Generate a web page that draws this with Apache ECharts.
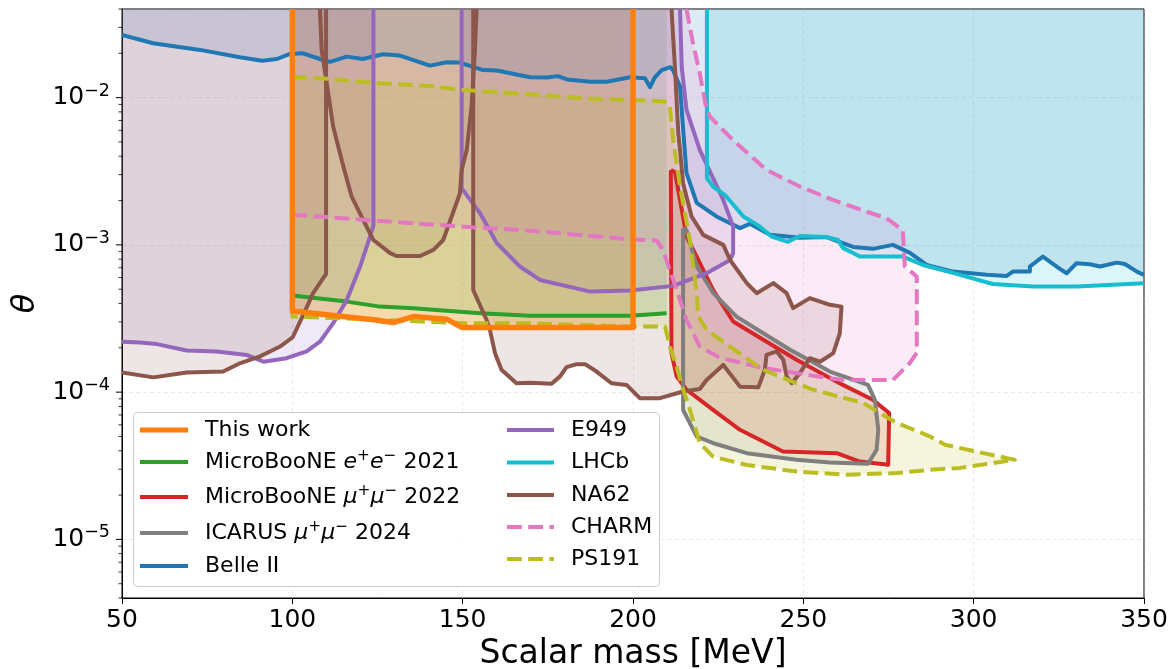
<!DOCTYPE html>
<html><head><meta charset="utf-8">
<script src="https://cdn.jsdelivr.net/npm/echarts@6/dist/echarts.min.js"></script>
<style>html,body{margin:0;padding:0;background:#fff}#c{width:1175px;height:669px}</style>
</head><body><div id="c"></div>
<script>
// ---- axis ranges / ticks ----
const X_MIN = 50, X_MAX = 350;
const Y_MIN = 4e-6, Y_MAX = 0.04, TOP = Y_MAX;
const xTicks = [50, 100, 150, 200, 250, 300, 350];
const yMajorTicks = [1e-5, 1e-4, 1e-3, 1e-2];
const yMinorTicks = [4e-6, 5e-6, 6e-6, 7e-6, 8e-6, 9e-6,
  2e-5, 3e-5, 4e-5, 5e-5, 6e-5, 7e-5, 8e-5, 9e-5,
  2e-4, 3e-4, 4e-4, 5e-4, 6e-4, 7e-4, 8e-4, 9e-4,
  2e-3, 3e-3, 4e-3, 5e-3, 6e-3, 7e-3, 8e-3, 9e-3,
  2e-2, 3e-2, 4e-2];

// ---- data (mass [MeV], theta) ----
const thisWork = [[100, TOP], [100, 3.56e-4], [123.8, 3.1e-4], [129.6, 2.97e-4], [135.5, 3.26e-4], [145.3, 3.13e-4], [149.7, 2.75e-4], [200, 2.75e-4], [200, TOP]];

const microBooNEee = [[100, 4.54e-4], [116, 4.12e-4], [125.7, 3.81e-4], [135.5, 3.72e-4], [155.1, 3.44e-4], [169.8, 3.3e-4], [199.1, 3.3e-4], [209.9, 3.44e-4]];

const microBooNEmumu = [[211.1, 3.23e-3], [211.3, 1.84e-4], [212.8, 1.28e-4], [215.7, 1.04e-4], [223.5, 7.59e-5], [231.4, 5.55e-5], [244, 3.95e-5], [259.8, 3.85e-5], [266.6, 3.38e-5], [274.9, 3.21e-5], [275.2, 7.2e-5], [270.4, 8.87e-5], [261.6, 1.12e-4], [248, 1.66e-4], [229.4, 3.02e-4], [223.5, 4.95e-4], [218.7, 8.33e-4], [215.7, 1.14e-3], [213.8, 2.02e-3], [212.3, 3.13e-3], [211.1, 3.23e-3]];

const icarus = [[214.7, 1.3e-3], [214.7, 7.59e-5], [218.7, 5.0e-5], [223.6, 4.5e-5], [233.4, 3.85e-5], [248, 3.47e-5], [257.8, 3.33e-5], [269, 3.26e-5], [271.5, 4.06e-5], [272, 5.55e-5], [271, 8.87e-5], [269, 1.12e-4], [257.8, 1.38e-4], [246.1, 1.94e-4], [230.4, 3.26e-4], [223.6, 4.7e-4], [218.7, 7.13e-4], [215.7, 1.26e-3], [214.7, 1.3e-3]];

const belle2 = [[50, 0.0267], [59.1, 0.0234], [72.9, 0.0211], [84.6, 0.0188], [91.1, 0.0178], [95.5, 0.0183], [99.3, 0.0198], [103.1, 0.0200], [108.1, 0.0183], [111.1, 0.0175], [116, 0.0190], [120.7, 0.0183], [126.6, 0.0197], [131.6, 0.0193], [140.4, 0.0165], [145.3, 0.0174], [149.2, 0.0173], [156, 0.0154], [160, 0.0153], [169.8, 0.01375], [174.7, 0.0137], [178, 0.0140], [180.6, 0.0133], [187.4, 0.01284], [192.3, 0.01284], [199.1, 0.01375], [203.5, 0.01355], [205, 0.01177], [206.4, 0.01375], [208.4, 0.0154], [211, 0.0161], [211.8, 0.0153], [213.8, 0.01188], [214.8, 0.00573], [215.7, 0.00307], [218.7, 0.00193], [224.5, 0.00156], [231.4, 0.0013], [234.3, 0.00139], [240.2, 0.00117], [249, 0.00112], [256.8, 0.00113], [264.6, 0.000969], [270.4, 0.00094], [276.3, 0.001], [281.3, 0.000883], [286.2, 0.000731], [293.9, 0.000659], [303.8, 0.000626], [309.7, 0.000616], [311.5, 0.000659], [316.5, 0.000659], [316.5, 0.000713], [320.3, 0.000833], [325.3, 0.000687], [327.3, 0.000642], [330.2, 0.000751], [334.1, 0.000739], [337.1, 0.000713], [342, 0.000758], [344.4, 0.000742], [347.9, 0.000659], [350, 0.000626]];

const e949Low = [[50, 2.2e-4], [55.3, 2.17e-4], [60.2, 2.12e-4], [69, 1.92e-4], [77.8, 1.89e-4], [86.6, 1.79e-4], [91.5, 1.61e-4], [98.3, 1.70e-4], [104.2, 1.89e-4], [108.1, 2.2e-4], [112, 2.94e-4], [116, 4.23e-4], [119.9, 7.13e-4], [122.3, 1.05e-3], [123.8, 1.35e-3], [123.8, TOP]];
const e949High = [[149.7, TOP], [149.7, 2.43e-3], [155.1, 1.64e-3], [160, 1.03e-3], [166.8, 7.13e-4], [172.7, 5.78e-4], [187.4, 4.82e-4], [199.1, 4.9e-4], [211.8, 5.27e-4], [221.6, 6.42e-4], [228.5, 7.9e-4], [229.4, 8.8e-4], [229.4, 1.33e-3], [226.5, 2.02e-3], [219.6, 4.42e-3], [215.7, 8.25e-3], [214.3, 0.0162], [213.8, TOP]];

const lhcb = [[221.7, TOP], [221.7, 2.84e-3], [223.5, 2.49e-3], [227, 2.18e-3], [232.4, 1.56e-3], [237.3, 1.33e-3], [240.7, 1.14e-3], [245.5, 1.05e-3], [249, 1.15e-3], [256.8, 1.13e-3], [260.2, 1.08e-3], [261.6, 9.55e-4], [266.6, 8.33e-4], [279.2, 8.33e-4], [285.1, 7.31e-4], [293.9, 6.46e-4], [305.6, 5.43e-4], [317.4, 5.21e-4], [330.3, 5.21e-4], [350, 5.5e-4]];

const na62Low = [[50, 1.36e-4], [59.2, 1.26e-4], [69, 1.36e-4], [79.7, 1.38e-4], [84.6, 1.57e-4], [90.5, 1.75e-4], [96.4, 2.04e-4], [100.1, 2.36e-4], [103.2, 3.35e-4], [106.1, 4.7e-4], [109.9, 6.35e-4], [109.9, TOP]];
const na62Mid = [[108.1, TOP], [108.6, 0.0211], [110.1, 0.01253], [112, 0.00635], [115, 0.0034], [117.4, 0.00213], [122.3, 0.00126], [123.8, 0.00108], [128.7, 8.8e-4], [130.6, 8.4e-4], [137.5, 8.4e-4], [141.4, 9.25e-4], [144.3, 1.08e-3], [149.2, 2.24e-3], [149.7, 3.23e-3], [151.2, 4.42e-3], [152.6, 8.69e-3], [153.6, 0.0211], [154.1, TOP]];
const na62High = [[153.1, TOP], [153.1, 4.94e-4], [157, 3.1e-4], [158, 2.65e-4], [159.5, 1.84e-4], [161.4, 1.42e-4], [165.8, 1.15e-4], [169.8, 1.16e-4], [176.1, 1.14e-4], [178.6, 1.28e-4], [180.5, 1.48e-4], [183.5, 1.55e-4], [185.9, 1.55e-4], [189.3, 1.38e-4], [193.7, 1.15e-4], [198.1, 1.12e-4], [202, 9.1e-5], [207.9, 9.1e-5], [214.7, 1.01e-4], [219.6, 1.05e-4], [221.6, 1.21e-4], [226.5, 1.53e-4], [231.4, 1.09e-4], [236.8, 1.08e-4], [238.7, 1.42e-4], [239.2, 1.79e-4], [242.2, 1.89e-4], [244.1, 1.66e-4], [245.1, 1.28e-4], [246.6, 1.15e-4], [249, 1.35e-4], [251.9, 1.70e-4], [254.9, 1.61e-4], [258.8, 1.84e-4], [260.7, 2.51e-4], [261.2, 3.81e-4], [257.8, 3.92e-4], [251.9, 4.35e-4], [247, 3.72e-4], [245.1, 4.7e-4], [241.2, 5.5e-4], [236.3, 4.7e-4], [233.4, 5.5e-4], [228.5, 7.9e-4], [226.5, 1.0e-3], [220.6, 1.17e-3], [217.2, 1.56e-3], [214.7, 2.62e-3], [213.8, 4.42e-3], [213.3, 5.73e-3], [212.3, 0.0162], [211.3, TOP]];

const charm = [[100, 1.6e-3], [150.1, 1.33e-3], [169.8, 1.25e-3], [199.1, 1.09e-3], [206.9, 1.07e-3], [208.8, 9.25e-4], [210.8, 6.76e-4], [212.8, 4.95e-4], [215.7, 3.1e-4], [219.6, 2.04e-4], [225.5, 1.71e-4], [238.1, 1.46e-4], [253.9, 1.28e-4], [261.6, 1.21e-4], [276.3, 1.21e-4], [281.3, 1.58e-4], [283.3, 1.85e-4], [283.3, 6.1e-4], [279.8, 7.13e-4], [279.2, 1.26e-3], [274.4, 1.52e-3], [268.6, 1.68e-3], [258.7, 2.02e-3], [249, 2.49e-3], [239.2, 3.23e-3], [229.3, 5.16e-3], [222.6, 7.43e-3], [221.6, 8.25e-3], [219.6, 0.01466], [217.6, 0.0235], [215.7, TOP]];

const ps191 = [[100, 0.0139], [111.1, 0.0134], [125.7, 0.01252], [140.4, 0.0120], [150.1, 0.01128], [169.8, 0.01054], [185.3, 0.0099], [200, 0.00965], [209.9, 0.0094], [210.8, 0.00869], [211.8, 0.00516], [213.8, 0.00249], [216.7, 0.00108], [218.7, 4.72e-4], [219.2, 3.26e-4], [221.6, 2.65e-4], [228.5, 2.04e-4], [238.1, 1.42e-4], [252.8, 1.04e-4], [267.5, 8.46e-5], [277.4, 6.19e-5], [287.2, 5.0e-5], [291.6, 4.39e-5], [312.1, 3.47e-5], [296, 3.06e-5], [287.2, 2.97e-5], [277.4, 2.82e-5], [262.7, 2.75e-5], [248, 2.89e-5], [233.4, 3.2e-5], [223.5, 3.65e-5], [219.6, 4.5e-5], [218.7, 5.3e-5], [216.1, 8.46e-5], [214.7, 1.04e-4], [212.8, 1.49e-4], [210.8, 2.04e-4], [209.4, 2.79e-4], [199.1, 2.79e-4], [169.8, 2.94e-4], [150.1, 2.94e-4], [125.7, 3.1e-4], [100, 3.26e-4], [100, 0.0139]];

// ---- styling ----
const C = {orange:'#ff7f0e', green:'#2ca02c', red:'#d62728', gray:'#7f7f7f', blue:'#1f77b4',
  purple:'#9467bd', cyan:'#17becf', brown:'#8c564b', pink:'#e377c2', olive:'#bcbd22'};
const FONT = 'DejaVu Sans';
const DASH = [14.8, 6.4];

function rgba(hex, a) {
  const n = parseInt(hex.slice(1), 16);
  return 'rgba(' + (n >> 16 & 255) + ',' + (n >> 8 & 255) + ',' + (n & 255) + ',' + a + ')';
}
function fillSeries(pts, extra, color, alpha) {
  const poly = pts.concat(extra);
  return {type:'custom', coordinateSystem:'cartesian2d', data: poly, z: 1, silent: true, clip: true,
    renderItem: function (params, api) {
      if (params.dataIndex !== 0) return null;
      return {type:'polygon', shape:{points: poly.map(p => api.coord(p))}, style:{fill: rgba(color, alpha)}};
    }};
}
function lineSeries(pts, color, width, dashed, z) {
  return {type:'custom', coordinateSystem:'cartesian2d', data: pts, z: z || 2, silent: true, clip: true,
    renderItem: function (params, api) {
      if (params.dataIndex !== 0) return null;
      return {type:'polyline', shape:{points: pts.map(p => api.coord(p))},
        style:{stroke: color, lineWidth: width, lineDash: dashed ? DASH : null, fill: 'none', lineJoin:'round', lineCap:'butt'}};
    }};
}
function tickSeries(vals, len, width) {
  return {type:'custom', coordinateSystem:'cartesian2d', data: vals.map(v => [X_MIN, v]), z: 5, silent: true, clip: false,
    renderItem: function (params, api) {
      const p = api.coord([api.value(0), api.value(1)]);
      return {type:'line', shape:{x1: p[0] - len, y1: p[1], x2: p[0], y2: p[1]}, style:{stroke:'#000', lineWidth: width}};
    }};
}

const A = 0.15;
const series = [
  fillSeries(thisWork, [], C.orange, 0.25),
  fillSeries(microBooNEee, [[209.9, TOP], [100, TOP]], C.green, A),
  fillSeries(microBooNEmumu, [], C.red, A),
  fillSeries(icarus, [], C.gray, A),
  fillSeries(belle2, [[350, TOP], [50, TOP]], C.blue, A),
  fillSeries(e949Low, [[50, TOP]], C.purple, A),
  fillSeries(e949High, [], C.purple, A),
  fillSeries(lhcb, [[350, TOP]], C.cyan, A),
  fillSeries(na62Low, [[50, TOP]], C.brown, A),
  fillSeries(na62Mid, [], C.brown, A),
  fillSeries(na62High, [], C.brown, A),
  fillSeries(charm, [[100, TOP]], C.pink, A),
  fillSeries(ps191, [], C.olive, A),
  lineSeries(microBooNEee, C.green, 4),
  lineSeries(microBooNEmumu, C.red, 4),
  lineSeries(icarus, C.gray, 4),
  lineSeries(belle2, C.blue, 4),
  lineSeries(e949Low, C.purple, 4),
  lineSeries(e949High, C.purple, 4),
  lineSeries(lhcb, C.cyan, 4),
  lineSeries(na62Low, C.brown, 4),
  lineSeries(na62Mid, C.brown, 4),
  lineSeries(na62High, C.brown, 4),
  lineSeries(charm, C.pink, 4, true),
  lineSeries(ps191, C.olive, 4, true),
  lineSeries(thisWork, C.orange, 5.5, false, 3),
  tickSeries(yMajorTicks, 6, 1),
  tickSeries(yMinorTicks, 3.5, 0.8)
];

// ---- legend (drawn as graphic) ----
const legendCol1 = [
  {label:'This work', color:C.orange, w:5},
  {label:'MicroBooNE {i|e}{s|+}{i|e}{s|−} 2021', color:C.green},
  {label:'MicroBooNE {i|μ}{s|+}{i|μ}{s|−} 2022', color:C.red},
  {label:'ICARUS {i|μ}{s|+}{i|μ}{s|−} 2024', color:C.gray},
  {label:'Belle II', color:C.blue}
];
const legendCol2 = [
  {label:'E949', color:C.purple},
  {label:'LHCb', color:C.cyan},
  {label:'NA62', color:C.brown},
  {label:'CHARM', color:C.pink, dash:true},
  {label:'PS191', color:C.olive, dash:true}
];
const rowsY1 = [430, 462, 497, 533, 566];
const rowsY2 = [430, 462.5, 495, 527, 559];
const legendRich = {
  i: {fontFamily: FONT, fontSize: 22, fontStyle: 'italic', fill: '#000'},
  s: {fontFamily: FONT, fontSize: 15.4, padding: [0, 0, 12, 0], fill: '#000'}
};
const graphics = [{type:'rect', z: 100, shape:{x:133.5, y:412.5, width:526, height:174, r:4},
  style:{fill:'rgba(255,255,255,0.8)', stroke:'#cccccc', lineWidth:1}}];
function addCol(items, ys, x1, x2, tx) {
  items.forEach((it, k) => {
    graphics.push({type:'line', z: 101, shape:{x1:x1, y1:ys[k], x2:x2, y2:ys[k]},
      style:{stroke: it.color, lineWidth: it.w || 4.2, lineDash: it.dash ? DASH : null}});
    graphics.push({type:'text', z: 101, x: tx, y: ys[k],
      style:{text: it.label, fontFamily: FONT, fontSize: 22, fill:'#000', verticalAlign:'middle', align:'left', rich: legendRich}});
  });
}
addCol(legendCol1, rowsY1, 140, 188, 205);
addCol(legendCol2, rowsY2, 507, 554, 571);

const axisLineStyle = {color:'#000', width:1};
const gridLineStyle = {color:'rgba(176,176,176,0.35)', width:0.8, type:[4, 3]};

const option = {
  animation: false,
  grid: {left:122, right:31, top:9, bottom:71, show:true, borderColor:'#000', borderWidth:1, backgroundColor:'transparent', outerBoundsMode:'none'},
  xAxis: {type:'value', min:X_MIN, max:X_MAX, interval:50,
    axisLine:{show:true, lineStyle:axisLineStyle},
    axisTick:{show:true, inside:false, length:6, lineStyle:axisLineStyle},
    axisLabel:{fontFamily:FONT, fontSize:25, color:'#000', margin:10,
      formatter: v => (xTicks.indexOf(v) >= 0 ? String(v) : '')},
    splitLine:{show:true, lineStyle:gridLineStyle},
    name:'Scalar mass [MeV]', nameLocation:'middle', nameGap:36,
    nameTextStyle:{fontFamily:FONT, fontSize:33, color:'#000'}},
  yAxis: {type:'log', logBase:10, min:Y_MIN, max:Y_MAX,
    axisLine:{show:true, lineStyle:axisLineStyle},
    axisTick:{show:false},
    axisLabel:{color:'#000', margin:12, showMinLabel:false, showMaxLabel:false,
      formatter: function (v) {
        const e = Math.round(Math.log10(v));
        if (Math.abs(Math.log10(v) - e) > 1e-6) return '';
        return '{b|10}{s|−' + Math.abs(e) + '}';
      },
      rich: {
        b: {fontFamily: FONT, fontSize: 25, color: '#000'},
        s: {fontFamily: FONT, fontSize: 17.5, color: '#000', padding: [0, 0, 13, 0]}
      }},
    splitLine:{show:true, lineStyle:gridLineStyle},
    name:'θ', nameLocation:'middle', nameGap:78, nameRotate:90,
    nameTextStyle:{fontFamily:FONT, fontSize:32, fontStyle:'italic', color:'#000'}},
  series: series,
  graphic: graphics
};
const chart = echarts.init(document.getElementById('c'), null, {renderer:'canvas'});
chart.setOption(option);
</script></body></html>
